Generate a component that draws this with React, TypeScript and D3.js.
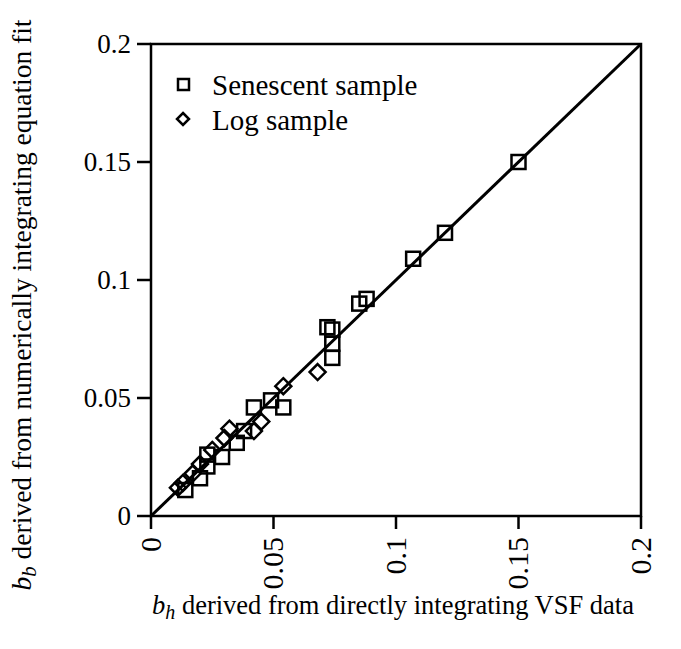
import React from "react";
import * as d3 from "d3";

const senescentX = [0.150, 0.120, 0.107, 0.088, 0.085, 0.072, 0.074, 0.074, 0.074, 0.054, 0.049, 0.042, 0.038, 0.035, 0.029, 0.023, 0.023, 0.020, 0.014];
const senescentY = [0.150, 0.120, 0.109, 0.092, 0.090, 0.080, 0.079, 0.073, 0.067, 0.046, 0.049, 0.046, 0.036, 0.031, 0.025, 0.026, 0.021, 0.016, 0.011];
const logX = [0.068, 0.054, 0.045, 0.042, 0.032, 0.030, 0.025, 0.020, 0.017, 0.013, 0.011];
const logY = [0.061, 0.055, 0.040, 0.036, 0.037, 0.033, 0.028, 0.022, 0.018, 0.014, 0.012];
const ticks = [0, 0.05, 0.1, 0.15, 0.2];
const tickLabels = ["0", "0.05", "0.1", "0.15", "0.2"];
const legendLabels = ["Senescent sample", "Log sample"];

const W = 681, H = 649;
const left = 151, right = 641, top = 44, bottom = 516;
const FONT = '"Liberation Serif", "DejaVu Serif", serif';

export default function App() {
  const x = d3.scaleLinear().domain([0, 0.2]).range([left, right]);
  const y = d3.scaleLinear().domain([0, 0.2]).range([bottom, top]);
  const line = d3.line<number>().x((d) => x(d)).y((d) => y(d));
  const sq = 14;
  const dia = 8;
  const ts = { fontFamily: FONT };
  return (
    <svg width={W} height={H} style={{ position: "absolute", left: 0, top: 0, background: "#fff", fontFamily: FONT }}>
      <rect x={0} y={0} width={W} height={H} fill="#fff" />
      <rect x={left} y={top} width={right - left} height={bottom - top} fill="none" stroke="#000" strokeWidth={2.5} />
      {ticks.map((t, i) => (
        <g key={"yt" + i}>
          <line x1={left - 14} x2={left} y1={y(t)} y2={y(t)} stroke="#000" strokeWidth={2.5} />
          <text x={left - 20} y={y(t)} dy="0.33em" textAnchor="end" style={ts} fontSize={27}>{tickLabels[i]}</text>
        </g>
      ))}
      {ticks.map((t, i) => (
        <g key={"xt" + i}>
          <line x1={x(t)} x2={x(t)} y1={bottom} y2={bottom + 13} stroke="#000" strokeWidth={2.5} />
          <text transform={`translate(${x(t)},${bottom + 21}) rotate(-90)`} dy="0.33em" textAnchor="end" style={ts} fontSize={30}>{tickLabels[i]}</text>
        </g>
      ))}
      <path d={line([0, 0.2]) || ""} stroke="#000" strokeWidth={3} fill="none" />
      {senescentX.map((v, i) => (
        <rect key={"s" + i} x={x(v) - sq / 2} y={y(senescentY[i]) - sq / 2} width={sq} height={sq} fill="none" stroke="#000" strokeWidth={2.5} />
      ))}
      {logX.map((v, i) => {
        const cx = x(v), cy = y(logY[i]);
        return <path key={"l" + i} d={`M${cx},${cy - dia}L${cx + dia},${cy}L${cx},${cy + dia}L${cx - dia},${cy}Z`} fill="none" stroke="#000" strokeWidth={2.5} />;
      })}
      <rect x={178} y={79} width={11} height={11} fill="none" stroke="#000" strokeWidth={2.5} />
      <text x={212} y={95} style={ts} fontSize={29}>{legendLabels[0]}</text>
      <path d={`M183,113L189,119L183,125L177,119Z`} fill="none" stroke="#000" strokeWidth={2.5} />
      <text x={212} y={130} style={ts} fontSize={29}>{legendLabels[1]}</text>
      <text x={393} y={614} textAnchor="middle" style={ts} fontSize={26.5}>
        <tspan fontStyle="italic">b</tspan><tspan fontStyle="italic" fontSize={20} dy={5}>h</tspan><tspan dy={-5}> derived from directly integrating VSF data</tspan>
      </text>
      <text transform={`translate(31,${305}) rotate(-90)`} textAnchor="middle" style={ts} fontSize={27.5}>
        <tspan fontStyle="italic">b</tspan><tspan fontStyle="italic" fontSize={21} dy={5}>b</tspan><tspan dy={-5}> derived from numerically integrating equation fit</tspan>
      </text>
    </svg>
  );
}
